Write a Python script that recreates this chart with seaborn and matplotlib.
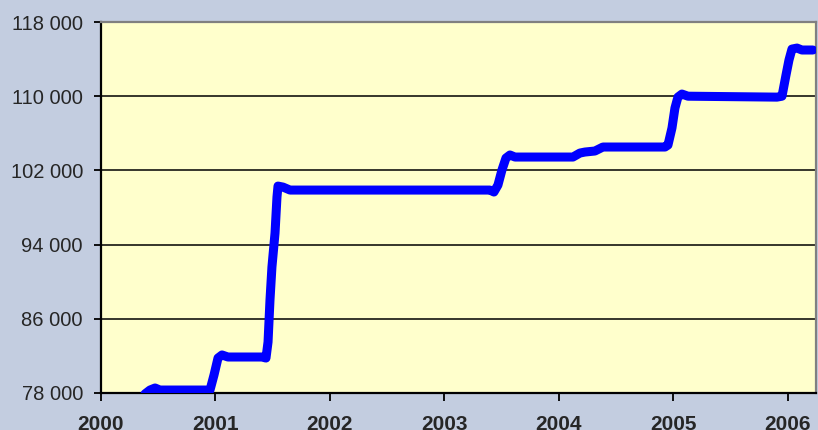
import matplotlib.pyplot as plt
import matplotlib.ticker as mticker
import seaborn as sns
import pandas as pd

# Series (decimal year, value)
years = [2000.384, 2000.428, 2000.472, 2000.515, 2000.952, 2000.987, 2001.022,
         2001.057, 2001.109, 2001.406, 2001.441, 2001.459, 2001.476, 2001.493,
         2001.520, 2001.537, 2001.546, 2001.590, 2001.651, 2003.397, 2003.432,
         2003.467, 2003.502, 2003.537, 2003.572, 2003.616, 2004.122, 2004.183,
         2004.227, 2004.314, 2004.384, 2004.428, 2004.926, 2004.952, 2004.987,
         2005.013, 2005.039, 2005.074, 2005.127, 2005.904, 2005.948, 2005.983,
         2006.009, 2006.035, 2006.079, 2006.122, 2006.218]
values = [77900, 78320, 78540, 78320, 78320, 79940, 81770,
          82100, 81880, 81880, 81770, 83500, 88030, 91580,
          95250, 99130, 100310, 100200, 99880, 99880, 99670,
          100420, 102040, 103330, 103660, 103440, 103440, 103870,
          103980, 104090, 104520, 104520, 104520, 104730, 106570,
          108720, 109900, 110230, 110000, 109900, 110000, 112280,
          113900, 115080, 115190, 114980, 114980]

year_ticks = [2000, 2001, 2002, 2003, 2004, 2005, 2006]
value_ticks = [78000, 86000, 94000, 102000, 110000, 118000]

df = pd.DataFrame({'year': years, 'value': values})

sns.set_theme(style="white")
plt.rcParams['font.family'] = ['Liberation Sans', 'DejaVu Sans']

fig = plt.figure(figsize=(8.18, 4.30), dpi=100, facecolor='#C3CDE0')
ax = fig.add_axes([101 / 818, 37 / 430, 715 / 818, 371 / 430])
ax.set_facecolor('#FFFFCC')

for v in value_ticks:
    ax.axhline(v, color='black', linewidth=1.1, zorder=1)

sns.lineplot(data=df, x='year', y='value', ax=ax, estimator=None,
             color='#0000FF', linewidth=6.5, solid_capstyle='round',
             solid_joinstyle='round', zorder=3)

ax.set_xlim(2000, 2006.245)
ax.set_ylim(78000, 118000)
ax.set_xticks(year_ticks)
ax.set_yticks(value_ticks)
ax.yaxis.set_major_formatter(
    mticker.FuncFormatter(lambda v, p: f"{int(v):,}".replace(',', ' ')))
ax.set_xlabel('')
ax.set_ylabel('')

ax.tick_params(axis='y', direction='out', length=5, width=1.3, color='black',
               labelsize=14.5, pad=8, left=True)
ax.tick_params(axis='x', direction='out', length=6, width=1.3, color='black',
               labelsize=15, pad=10, bottom=True)
for lab in ax.get_xticklabels():
    lab.set_fontweight('bold')

ax.spines['left'].set_color('black')
ax.spines['bottom'].set_color('black')
ax.spines['top'].set_color('#808080')
ax.spines['right'].set_color('#808080')
for s in ax.spines.values():
    s.set_linewidth(1.6)
    s.set_visible(True)

fig.savefig('out.png', dpi=100, facecolor=fig.get_facecolor())
